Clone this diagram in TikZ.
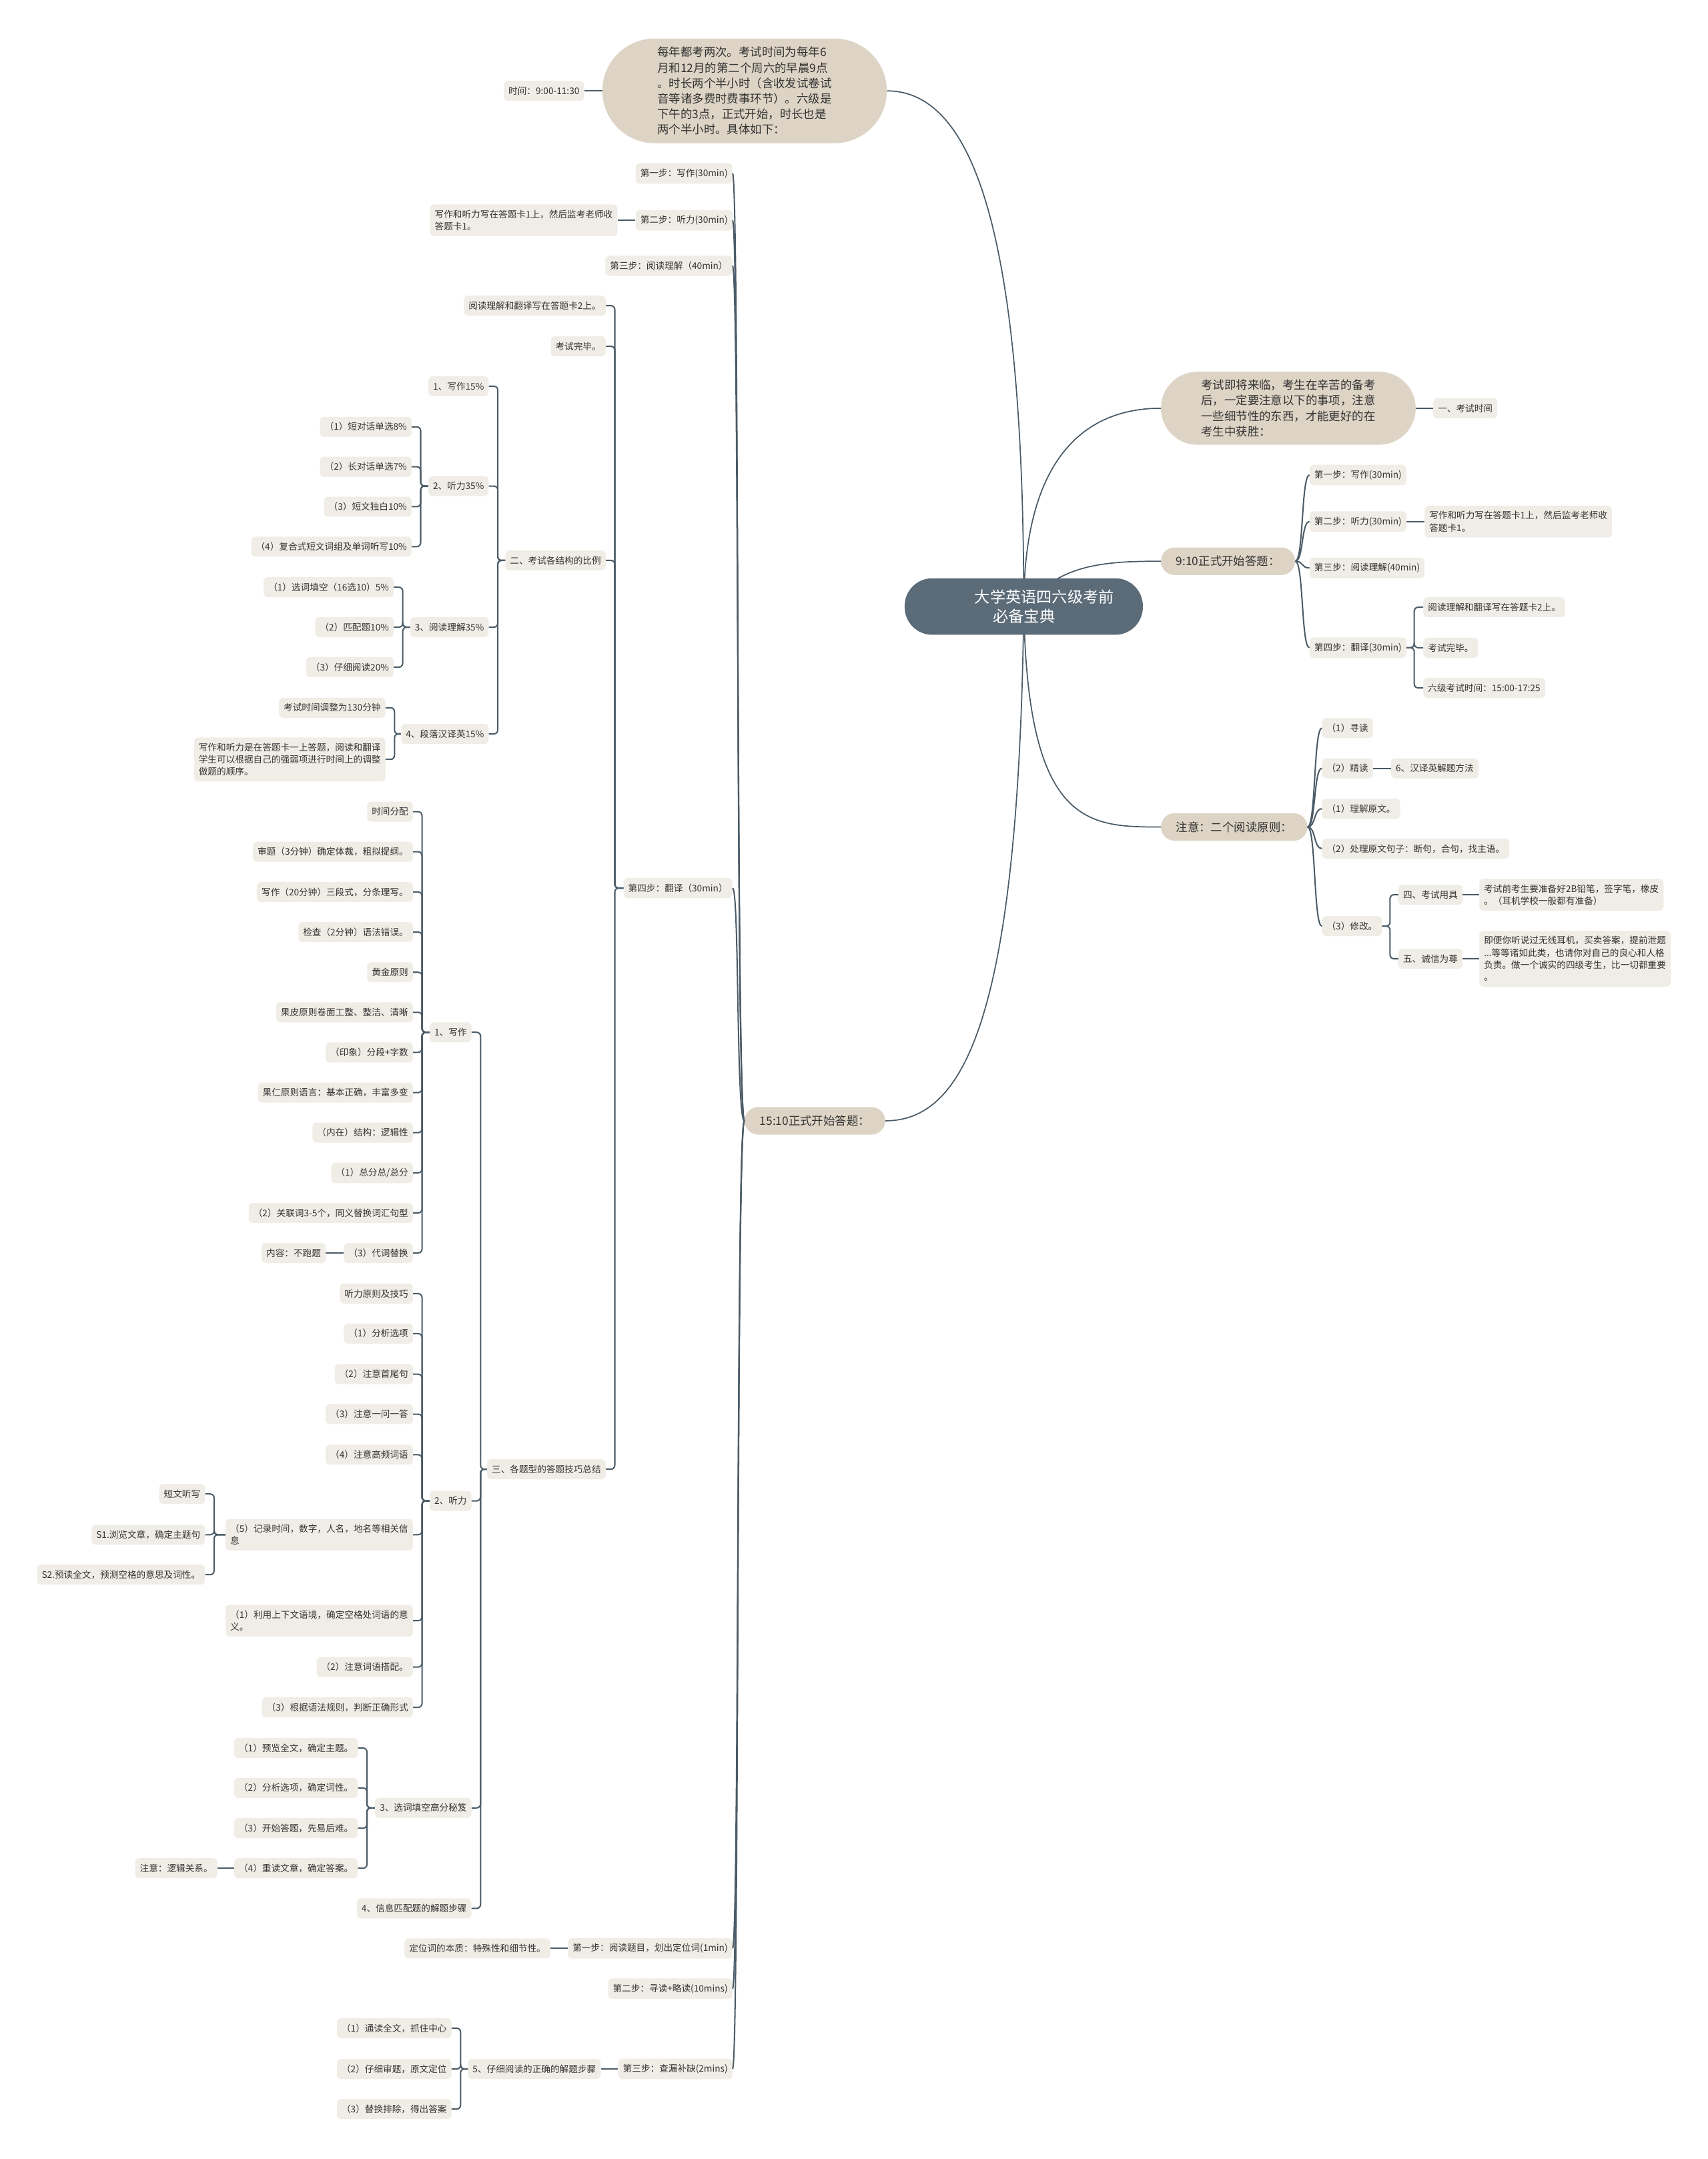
\documentclass[tikz,border=0pt]{standalone}
\usepackage{fontspec}
\setmainfont{Noto Sans CJK SC}
\usepackage{tikz}
\usetikzlibrary{positioning}

\definecolor{rootfill}{HTML}{5B6B78}
\definecolor{topicfill}{HTML}{DDD4C5}
\definecolor{leaffill}{HTML}{F0EDE6}
\definecolor{linecol}{HTML}{4B5B67}
\definecolor{txt}{HTML}{333333}

\pgfdeclarelayer{background}
\pgfsetlayers{background,main}

\begin{document}
\begin{tikzpicture}[
			x=0.05cm, y=-0.05cm,
			root/.style={fill=rootfill, text=white, rounded corners=1cm, minimum width=8.65cm, minimum height=2.05cm, align=left, font=\fontsize{16}{20.6}\selectfont},
			topic/.style={fill=topicfill, text=txt, rounded corners=0.5cm, minimum height=1cm, inner xsep=0.55cm, font=\fontsize{12}{16}\selectfont},
			leaf/.style={fill=leaffill, text=txt, rounded corners=0.15cm, minimum height=0.725cm, inner xsep=0.17cm, inner ysep=0.2cm, align=left, font=\fontsize{9.4}{12.6}\selectfont},
			curve/.style={draw=linecol, line width=1.2pt},
			link/.style={draw=linecol, line width=1.4pt, rounded corners=4pt}
			]
			
			\useasboundingbox (0,0) rectangle (1240,1568);
			
			% ---------------- CENTRE ----------------
			\node[root] (root) at (743.5,440.5) {\hspace*{1.5cm}大学英语四六级考前\\\hspace*{2.165cm}必备宝典};
			
			% ---------------- TOP LEFT ----------------
			\node[topic, minimum width=10.33cm, minimum height=3.8cm, rounded corners=1.9cm, align=left] (intro) at (540.75,66) {每年都考两次。考试时间为每年6\\月和12月的第二个周六的早晨9点\\。时长两个半小时（含收发试卷试\\音等诸多费时费事环节）。六级是\\下午的3点，正式开始，时长也是\\两个半小时。具体如下：};
			\node[leaf, left=0.65cm of intro] (introT) {时间：9:00-11:30};
			\draw[link] (introT.east) -- (intro.west);
			
			% ---------------- RIGHT: PREPARATION ----------------
			\node[topic, anchor=west, minimum width=9.25cm, minimum height=2.65cm, rounded corners=1.32cm, align=left] (prep) at (843,296.5) {考试即将来临，考生在辛苦的备考\\后，一定要注意以下的事项，注意\\一些细节性的东西，才能更好的在\\考生中获胜：};
			\node[leaf, right=0.625cm of prep] (prepA) {一、考试时间};
			\draw[link] (prepA.west) -- (prep.east);
			
			% ---------------- RIGHT: 9:10 ----------------
			\node[topic, anchor=west] (am) at (843,407.6) {9:10正式开始答题：};
			\node[leaf, anchor=west] (am1) at (951,345) {第一步：写作(30min)};
			\node[leaf, anchor=west] (am2) at (951,378.8) {第二步：听力(30min)};
			\node[leaf, right=0.65cm of am2] (am2a) {写作和听力写在答题卡1上，然后监考老师收\\答题卡1。};
			\node[leaf, anchor=west] (am3) at (951,412.5) {第三步：阅读理解(40min)};
			\node[leaf, anchor=west] (am4) at (951,470.4) {第四步：翻译(30min)};
			\node[leaf, anchor=west] (am4a) at (1033.6,441) {阅读理解和翻译写在答题卡2上。};
			\node[leaf, anchor=west] (am4b) at (1033.6,470.4) {考试完毕。};
			\node[leaf, anchor=west] (am4c) at (1033.6,499.6) {六级考试时间：15:00-17:25};
			
			\draw[link] (am1.west) .. controls +(-6,0) and +(6,0) .. (am.east);
			\draw[link] (am2.west) .. controls +(-6,0) and +(6,0) .. (am.east);
			\draw[link] (am3.west) .. controls +(-6,0) and +(6,0) .. (am.east);
			\draw[link] (am4.west) .. controls +(-6,0) and +(6,0) .. (am.east);
			\draw[link] (am2a.west) -- (am2.east);
			\draw[link] (am4a.west) -- ++(-6.5,0) |- (am4.east);
			\draw[link] (am4b.west) -- ++(-6.5,0) |- (am4.east);
			\draw[link] (am4c.west) -- ++(-6.5,0) |- (am4.east);
			
			% ---------------- RIGHT: READING RULES ----------------
			\node[topic, anchor=west] (rule) at (843,600.6) {注意：二个阅读原则：};
			\node[leaf, anchor=west] (rule1) at (960,528.8) {（1）寻读};
			\node[leaf, anchor=west] (rule2) at (960,558) {（2）精读};
			\node[leaf, right=0.65cm of rule2] (rule2a) {6、汉译英解题方法};
			\node[leaf, anchor=west] (rule3) at (960,587.3) {（1）理解原文。};
			\node[leaf, anchor=west] (rule4) at (960,616.3) {（2）处理原文句子：断句，合句，找主语。};
			\node[leaf, anchor=west] (rule5) at (960,672.6) {（3）修改。};
			\node[leaf, anchor=west] (rule5a) at (1015.5,649.8) {四、考试用具};
			\node[leaf, right=0.6cm of rule5a] (rule5aa) {考试前考生要准备好2B铅笔，签字笔，橡皮\\。（耳机学校一般都有准备）};
			\node[leaf, anchor=west] (rule5b) at (1015.5,696.3) {五、诚信为尊};
			\node[leaf, right=0.6cm of rule5b] (rule5ba) {即便你听说过无线耳机，买卖答案，提前泄题\\...等等诸如此类，也请你对自己的良心和人格\\负责。做一个诚实的四级考生，比一切都重要\\。};
			
			\draw[link] (rule1.west) .. controls +(-6,0) and +(6,0) .. (rule.east);
			\draw[link] (rule2.west) .. controls +(-6,0) and +(6,0) .. (rule.east);
			\draw[link] (rule3.west) .. controls +(-6,0) and +(6,0) .. (rule.east);
			\draw[link] (rule4.west) .. controls +(-6,0) and +(6,0) .. (rule.east);
			\draw[link] (rule5.west) .. controls +(-6,0) and +(6,0) .. (rule.east);
			\draw[link] (rule2a.west) -- (rule2.east);
			\draw[link] (rule5a.west) -- ++(-6,0) |- (rule5.east);
			\draw[link] (rule5b.west) -- ++(-6,0) |- (rule5.east);
			\draw[link] (rule5aa.west) -- (rule5a.east);
			\draw[link] (rule5ba.west) -- (rule5b.east);
			
			% ---------------- LEFT: 15:10 ----------------
			\node[topic, anchor=east] (pm) at (643,814) {15:10正式开始答题：};
			\node[leaf, anchor=east] (pm1) at (532,126) {第一步：写作(30min)};
			\node[leaf, anchor=east] (pm2) at (532,160) {第二步：听力(30min)};
			\node[leaf, left=0.65cm of pm2] (pm2a) {写作和听力写在答题卡1上，然后监考老师收\\答题卡1。};
			\node[leaf, anchor=east] (pm3) at (532,193) {第三步：阅读理解（40min）};
			\node[leaf, anchor=east] (pm4) at (532,645) {第四步：翻译（30min）};
			\node[leaf, anchor=east] (pm5) at (532,1415) {第一步：阅读题目，划出定位词(1min)};
			\node[leaf, left=0.625cm of pm5] (pm5a) {定位词的本质：特殊性和细节性。};
			\node[leaf, anchor=east] (pm6) at (532,1444.3) {第二步：寻读+略读(10mins)};
			\node[leaf, anchor=east] (pm7) at (532,1502.6) {第三步：查漏补缺(2mins)};
			\node[leaf, left=0.625cm of pm7] (pm7a) {5、仔细阅读的正确的解题步骤};
			\node[leaf, anchor=east] (pm7a1) at (328,1473) {（1）通读全文，抓住中心};
			\node[leaf, anchor=east] (pm7a2) at (328,1502.6) {（2）仔细审题，原文定位};
			\node[leaf, anchor=east] (pm7a3) at (328,1531.7) {（3）替换排除，得出答案};
			
			% step four
			\node[leaf, anchor=east] (pm4a) at (440,222) {阅读理解和翻译写在答题卡2上。};
			\node[leaf, anchor=east] (pm4b) at (440,251.5) {考试完毕。};
			\node[leaf, anchor=east] (ratio) at (440,407) {二、考试各结构的比例};
			\node[leaf, anchor=east] (tips) at (440,1067) {三、各题型的答题技巧总结};
			
			% proportions
			\node[leaf, anchor=east] (ratio1) at (355,280.5) {1、写作15\%};
			\node[leaf, anchor=east] (ratio2) at (355,353) {2、听力35\%};
			\node[leaf, anchor=east] (ratio3) at (355,455.5) {3、阅读理解35\%};
			\node[leaf, anchor=east] (ratio4) at (355,533) {4、段落汉译英15\%};
			\node[leaf, anchor=east] (ratio2a) at (299,310) {（1）短对话单选8\%};
			\node[leaf, anchor=east] (ratio2b) at (299,339) {（2）长对话单选7\%};
			\node[leaf, anchor=east] (ratio2c) at (299,368) {（3）短文独白10\%};
			\node[leaf, anchor=east] (ratio2d) at (299,397) {（4）复合式短文词组及单词听写10\%};
			\node[leaf, anchor=east] (ratio3a) at (286,426.5) {（1）选词填空（16选10）5\%};
			\node[leaf, anchor=east] (ratio3b) at (286,455.5) {（2）匹配题10\%};
			\node[leaf, anchor=east] (ratio3c) at (286,484.5) {（3）仔细阅读20\%};
			\node[leaf, anchor=east] (ratio4a) at (280,514) {考试时间调整为130分钟};
			\node[leaf, anchor=east] (ratio4b) at (280,551.5) {写作和听力是在答题卡一上答题，阅读和翻译\\学生可以根据自己的强弱项进行时间上的调整\\做题的顺序。};
			
			% tips
			\node[leaf, anchor=east] (write) at (342.5,749.7) {1、写作};
			\node[leaf, anchor=east] (listen) at (342.5,1090) {2、听力};
			\node[leaf, anchor=east] (cloze) at (342.5,1313) {3、选词填空高分秘笈};
			\node[leaf, anchor=east] (match) at (342.5,1386) {4、信息匹配题的解题步骤};
			
			\node[leaf, anchor=east] (write1) at (300,589.5) {时间分配};
			\node[leaf, anchor=east] (write2) at (300,618.6) {审题（3分钟）确定体裁，粗拟提纲。};
			\node[leaf, anchor=east] (write3) at (300,647.8) {写作（20分钟）三段式，分条理写。};
			\node[leaf, anchor=east] (write4) at (300,676.9) {检查（2分钟）语法错误。};
			\node[leaf, anchor=east] (write5) at (300,706.1) {黄金原则};
			\node[leaf, anchor=east] (write6) at (300,735.2) {果皮原则卷面工整、整洁、清晰};
			\node[leaf, anchor=east] (write7) at (300,764.3) {（印象）分段+字数};
			\node[leaf, anchor=east] (write8) at (300,793.5) {果仁原则语言：基本正确，丰富多变};
			\node[leaf, anchor=east] (write9) at (300,822.6) {（内在）结构：逻辑性};
			\node[leaf, anchor=east] (write10) at (300,851.8) {（1）总分总/总分};
			\node[leaf, anchor=east] (write11) at (300,880.9) {（2）关联词3-5个，同义替换词汇句型};
			\node[leaf, anchor=east] (write12) at (300,910) {（3）代词替换};
			\node[leaf, left=0.65cm of write12] (write12a) {内容：不跑题};
			
			\node[leaf, anchor=east] (listen1) at (300,939.5) {听力原则及技巧};
			\node[leaf, anchor=east] (listen2) at (300,968.5) {（1）分析选项};
			\node[leaf, anchor=east] (listen3) at (300,998) {（2）注意首尾句};
			\node[leaf, anchor=east] (listen4) at (300,1027) {（3）注意一问一答};
			\node[leaf, anchor=east] (listen5) at (300,1056.5) {（4）注意高频词语};
			\node[leaf, anchor=east] (listen6) at (300,1114.6) {（5）记录时间，数字，人名，地名等相关信\\息};
			\node[leaf, anchor=east] (listen7) at (300,1177) {（1）利用上下文语境，确定空格处词语的意\\义。};
			\node[leaf, anchor=east] (listen8) at (300,1210.7) {（2）注意词语搭配。};
			\node[leaf, anchor=east] (listen9) at (300,1240) {（3）根据语法规则，判断正确形式};
			\node[leaf, anchor=east] (listen6a) at (149,1085) {短文听写};
			\node[leaf, anchor=east] (listen6b) at (149,1114.6) {S1.浏览文章，确定主题句};
			\node[leaf, anchor=east] (listen6c) at (149,1143.6) {S2.预读全文，预测空格的意思及词性。};
			
			\node[leaf, anchor=east] (cloze1) at (260,1269.5) {（1）预览全文，确定主题。};
			\node[leaf, anchor=east] (cloze2) at (260,1298.5) {（2）分析选项，确定词性。};
			\node[leaf, anchor=east] (cloze3) at (260,1327.7) {（3）开始答题，先易后难。};
			\node[leaf, anchor=east] (cloze4) at (260,1356.8) {（4）重读文章，确定答案。};
			\node[leaf, left=0.6cm of cloze4] (cloze4a) {注意：逻辑关系。};
			
			% connectors of the 15:10 branch
			\draw[link] (pm1.east) .. controls +(5,0) and +(-6,0) .. (pm.west);
			\draw[link] (pm2.east) .. controls +(5,0) and +(-6,0) .. (pm.west);
			\draw[link] (pm3.east) .. controls +(5,0) and +(-6,0) .. (pm.west);
			\draw[link] (pm4.east) .. controls +(5,0) and +(-6,0) .. (pm.west);
			\draw[link] (pm5.east) .. controls +(5,0) and +(-6,0) .. (pm.west);
			\draw[link] (pm6.east) .. controls +(5,0) and +(-6,0) .. (pm.west);
			\draw[link] (pm7.east) .. controls +(5,0) and +(-6,0) .. (pm.west);
			\draw[link] (pm2a.east) -- (pm2.west);
			\draw[link] (pm5a.east) -- (pm5.west);
			\draw[link] (pm7a.east) -- (pm7.west);
			\draw[link] (pm7a1.east) -- ++(6.5,0) |- (pm7a.west);
			\draw[link] (pm7a2.east) -- ++(6.5,0) |- (pm7a.west);
			\draw[link] (pm7a3.east) -- ++(6.5,0) |- (pm7a.west);
			
			\draw[link] (pm4a.east) -- ++(6.5,0) |- (pm4.west);
			\draw[link] (pm4b.east) -- ++(6.5,0) |- (pm4.west);
			\draw[link] (ratio.east) -- ++(6.5,0) |- (pm4.west);
			\draw[link] (tips.east) -- ++(6.5,0) |- (pm4.west);
			
			\draw[link] (ratio1.east) -- ++(6.5,0) |- (ratio.west);
			\draw[link] (ratio2.east) -- ++(6.5,0) |- (ratio.west);
			\draw[link] (ratio3.east) -- ++(6.5,0) |- (ratio.west);
			\draw[link] (ratio4.east) -- ++(6.5,0) |- (ratio.west);
			\draw[link] (ratio2a.east) -- ++(6.5,0) |- (ratio2.west);
			\draw[link] (ratio2b.east) -- ++(6.5,0) |- (ratio2.west);
			\draw[link] (ratio2c.east) -- ++(6.5,0) |- (ratio2.west);
			\draw[link] (ratio2d.east) -- ++(6.5,0) |- (ratio2.west);
			\draw[link] (ratio3a.east) -- ++(6.5,0) |- (ratio3.west);
			\draw[link] (ratio3b.east) -- ++(6.5,0) |- (ratio3.west);
			\draw[link] (ratio3c.east) -- ++(6.5,0) |- (ratio3.west);
			\draw[link] (ratio4a.east) -- ++(6.5,0) |- (ratio4.west);
			\draw[link] (ratio4b.east) -- ++(6.5,0) |- (ratio4.west);
			
			\draw[link] (write.east) -- ++(6.5,0) |- (tips.west);
			\draw[link] (listen.east) -- ++(6.5,0) |- (tips.west);
			\draw[link] (cloze.east) -- ++(6.5,0) |- (tips.west);
			\draw[link] (match.east) -- ++(6.5,0) |- (tips.west);
			
			\draw[link] (write1.east) -- ++(6.5,0) |- (write.west);
			\draw[link] (write2.east) -- ++(6.5,0) |- (write.west);
			\draw[link] (write3.east) -- ++(6.5,0) |- (write.west);
			\draw[link] (write4.east) -- ++(6.5,0) |- (write.west);
			\draw[link] (write5.east) -- ++(6.5,0) |- (write.west);
			\draw[link] (write6.east) -- ++(6.5,0) |- (write.west);
			\draw[link] (write7.east) -- ++(6.5,0) |- (write.west);
			\draw[link] (write8.east) -- ++(6.5,0) |- (write.west);
			\draw[link] (write9.east) -- ++(6.5,0) |- (write.west);
			\draw[link] (write10.east) -- ++(6.5,0) |- (write.west);
			\draw[link] (write11.east) -- ++(6.5,0) |- (write.west);
			\draw[link] (write12.east) -- ++(6.5,0) |- (write.west);
			\draw[link] (write12a.east) -- (write12.west);
			
			\draw[link] (listen1.east) -- ++(6.5,0) |- (listen.west);
			\draw[link] (listen2.east) -- ++(6.5,0) |- (listen.west);
			\draw[link] (listen3.east) -- ++(6.5,0) |- (listen.west);
			\draw[link] (listen4.east) -- ++(6.5,0) |- (listen.west);
			\draw[link] (listen5.east) -- ++(6.5,0) |- (listen.west);
			\draw[link] (listen6.east) -- ++(6.5,0) |- (listen.west);
			\draw[link] (listen7.east) -- ++(6.5,0) |- (listen.west);
			\draw[link] (listen8.east) -- ++(6.5,0) |- (listen.west);
			\draw[link] (listen9.east) -- ++(6.5,0) |- (listen.west);
			\draw[link] (listen6a.east) -- ++(6.5,0) |- (listen6.west);
			\draw[link] (listen6b.east) -- ++(6.5,0) |- (listen6.west);
			\draw[link] (listen6c.east) -- ++(6.5,0) |- (listen6.west);
			
			\draw[link] (cloze1.east) -- ++(6.5,0) |- (cloze.west);
			\draw[link] (cloze2.east) -- ++(6.5,0) |- (cloze.west);
			\draw[link] (cloze3.east) -- ++(6.5,0) |- (cloze.west);
			\draw[link] (cloze4.east) -- ++(6.5,0) |- (cloze.west);
			\draw[link] (cloze4a.east) -- (cloze4.west);
			
			% ---------------- MAIN BRANCHES ----------------
			\begin{pgfonlayer}{background}
				\fill[white] (0,0) rectangle (1240,1568);
				\draw[curve] (root.center) .. controls (743.5,180) and (710,66) .. (intro.east);
				\draw[curve] (root.center) .. controls (743.5,330) and (790,296.5) .. (prep.west);
				\draw[curve] (root.center) .. controls (770,410) and (800,407.6) .. (am.west);
				\draw[curve] (root.center) .. controls (746,600) and (790,600.6) .. (rule.west);
				\draw[curve] (root.center) .. controls (740,740) and (700,814) .. (pm.east);
			\end{pgfonlayer}
			
		\end{tikzpicture}
\end{document}
